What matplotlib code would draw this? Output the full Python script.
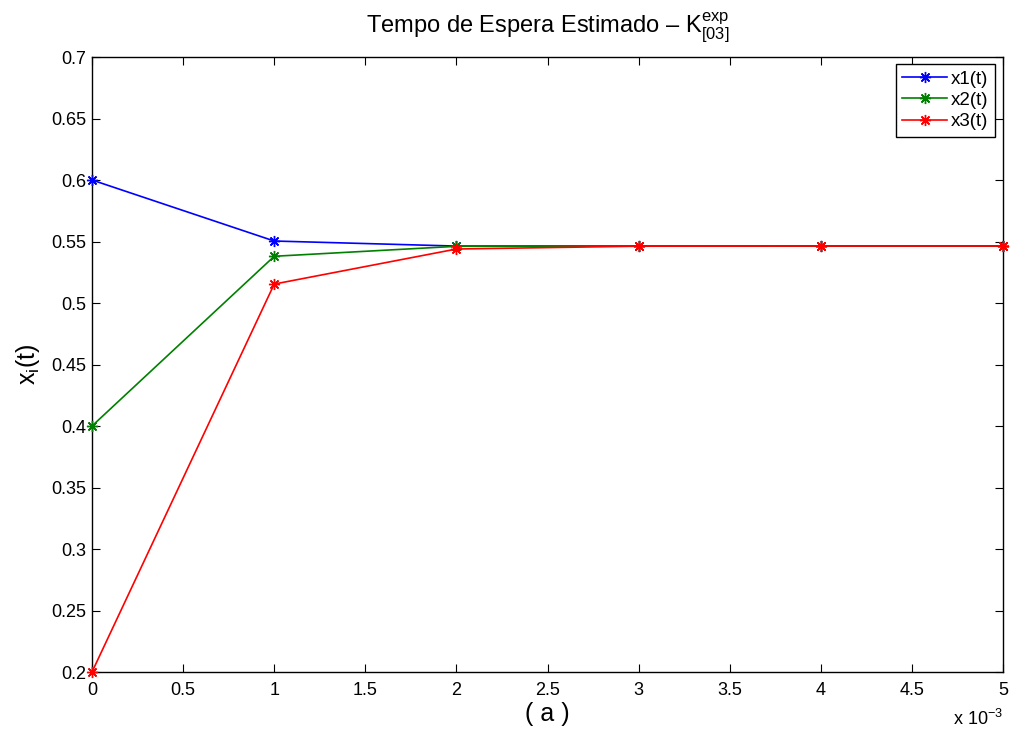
import matplotlib
matplotlib.use("Agg")
import matplotlib.pyplot as plt

plt.rcParams['font.family'] = ['Liberation Sans', 'DejaVu Sans']
plt.rcParams['mathtext.fontset'] = 'custom'
plt.rcParams['mathtext.rm'] = 'Liberation Sans'
plt.rcParams['mathtext.it'] = 'Liberation Sans'
plt.rcParams['mathtext.bf'] = 'Liberation Sans:bold'

# time steps (in units of 1e-3)
t = [0, 1, 2, 3, 4, 5]
x1 = [0.600, 0.5504, 0.5463, 0.5463, 0.5463, 0.5463]
x2 = [0.400, 0.5380, 0.5461, 0.5463, 0.5463, 0.5463]
x3 = [0.200, 0.5154, 0.5439, 0.5462, 0.5463, 0.5463]
series_names = ['x1(t)', 'x2(t)', 'x3(t)']
series_colors = ['#0000ff', '#008000', '#ff0000']

xticks = [0, 0.5, 1, 1.5, 2, 2.5, 3, 3.5, 4, 4.5, 5]
yticks = [0.2, 0.25, 0.3, 0.35, 0.4, 0.45, 0.5, 0.55, 0.6, 0.65, 0.7]

fig = plt.figure(figsize=(10.10, 7.31), dpi=100)
ax = fig.add_axes([0.0911, 0.0807, 0.902, 0.8413])

asterisk = (8, 2, 0)
for ys, name, c in zip([x1, x2, x3], series_names, series_colors):
    ax.plot(t, ys, color=c, lw=1.2, marker=asterisk, markersize=8,
            markeredgewidth=1.0, label=name, clip_on=False, zorder=3)

ax.set_xlim(0, 5)
ax.set_ylim(0.2, 0.7)
ax.set_xticks(xticks)
ax.set_xticklabels([f"{v:g}" for v in xticks])
ax.set_yticks(yticks)
ax.set_yticklabels([f"{v:g}" for v in yticks])
ax.tick_params(direction='in', length=6, width=0.8, labelsize=13,
               top=True, right=True)
ax.tick_params(axis='x', pad=7)
ax.tick_params(axis='y', pad=4)
for s in ax.spines.values():
    s.set_linewidth(1.0)

ax.set_title(r"Tempo de Espera Estimado – $\mathrm{K}^{\mathrm{exp}}_{\mathrm{[03]}}$",
             fontsize=17, pad=18)
ax.set_xlabel("( a )", fontsize=18, labelpad=2)
ax.set_ylabel(r"$\mathrm{x_i(t)}$", fontsize=18, labelpad=7)

ax.text(1.0, -0.06, r"x 10$^{\mathrm{-3}}$", transform=ax.transAxes,
        ha='right', va='top', fontsize=13)

leg = ax.legend(loc='upper right', bbox_to_anchor=(0.9912, 0.9886),
                fontsize=13.5, frameon=True, fancybox=False,
                edgecolor='black', framealpha=1, borderpad=0.35,
                labelspacing=0.22, handlelength=2.4, handletextpad=0.2,
                borderaxespad=0.0)
leg.get_frame().set_linewidth(1.0)

fig.savefig("out.png", dpi=100)
